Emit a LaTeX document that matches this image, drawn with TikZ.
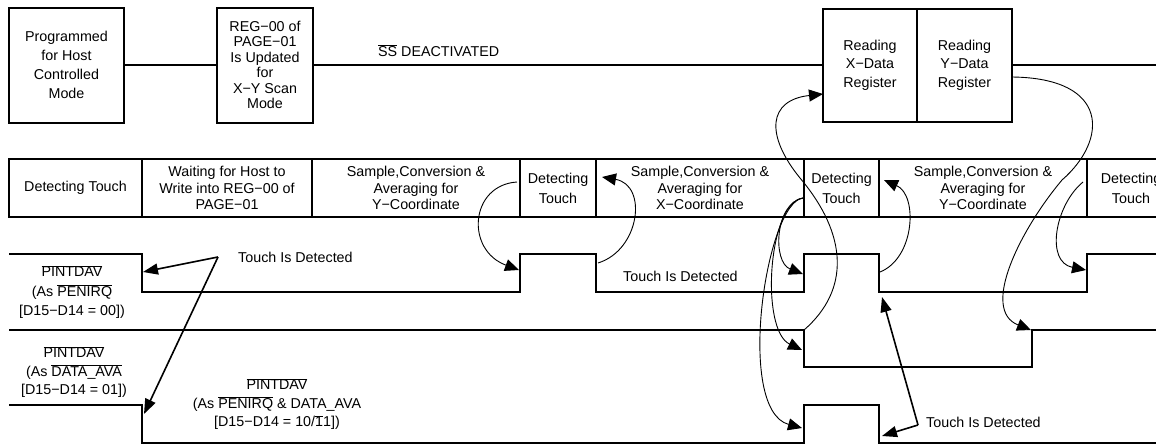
\documentclass[tikz,border=0pt]{standalone}
\usepackage{fontspec}
\setmainfont{Liberation Sans}
\usetikzlibrary{arrows.meta}
\newcommand{\ovl}[1]{$\overline{\mbox{#1}}$}
\begin{document}
\begin{tikzpicture}[x=1pt,y=-1pt,
  txt/.style={font=\fontsize{14.3}{17}\selectfont, inner sep=0pt, align=center},
  box/.style={draw, line width=2pt, inner sep=0pt, align=center, font=\fontsize{14.3}{16.5}\selectfont},
  wave/.style={line width=2.2pt},
  conn/.style={line width=2pt},
  link/.style={line width=0.9pt, -{Triangle[length=14pt,width=12pt]}},
  ptr/.style={line width=1.6pt, -{Triangle[length=15pt,width=11pt]}},
]
\useasboundingbox (0,0) rectangle (1156,445);
\clip (0,0) rectangle (1156,445);

% top row
\node[box, minimum width=115, minimum height=115, font=\fontsize{14.3}{19}\selectfont] (b1) at (66.5,65) {Programmed\\for Host\\Controlled\\Mode};
\node[box, minimum width=96, minimum height=115, font=\fontsize{14.3}{15.5}\selectfont] (b2) at (265,65) {REG−00 of\\PAGE−01\\Is Updated\\for\\X−Y Scan\\Mode};
\node[box, minimum width=94, minimum height=113, font=\fontsize{14.3}{18.5}\selectfont] (b3) at (870,65) {Reading\\X−Data\\Register};
\node[box, minimum width=95, minimum height=113, font=\fontsize{14.3}{18.5}\selectfont] (b4) at (964.5,65) {Reading\\Y−Data\\Register};
\coordinate (topR) at (1160,65);
\draw[conn] (b1.east) -- (b2.west);
\draw[conn] (b2.east) -- (b3.west);
\draw[conn] (b4.east) -- (topR);
\node[txt, anchor=west] (ss) at (378,51) {\ovl{SS} DEACTIVATED};

% state row
\node[box, minimum width=133, minimum height=58] (c1) at (75.5,188) {Detecting Touch};
\node[box, minimum width=170, minimum height=58] (c2) at (227,188) {Waiting for Host to\\Write into REG−00 of\\PAGE−01};
\node[box, minimum width=208, minimum height=58] (c3) at (416,188) {Sample,Conversion \&\\Averaging for\\Y−Coordinate};
\node[box, minimum width=76, minimum height=58, font=\fontsize{14.3}{20}\selectfont] (c4) at (558,188) {Detecting\\Touch};
\node[box, minimum width=208, minimum height=58] (c5) at (700,188) {Sample,Conversion \&\\Averaging for\\X−Coordinate};
\node[box, minimum width=75, minimum height=58, font=\fontsize{14.3}{20}\selectfont] (c6) at (841.5,188) {Detecting\\Touch};
\node[box, minimum width=208, minimum height=58] (c7) at (983,188) {Sample,Conversion \&\\Averaging for\\Y−Coordinate};
\node[box, minimum width=88, minimum height=58, font=\fontsize{14.3}{20}\selectfont] (c8) at (1131,188) {Detecting\\Touch};

% waveforms
\draw[wave] (9,254) -- (142,254) -- (142,292) -- (520,292) -- (520,254) -- (596,254) -- (596,292) -- (804,292) -- (804,254) -- (879,254) -- (879,292) -- (1087,292) -- (1087,254) -- (1160,254);
\draw[wave] (9,330) -- (804,330) -- (804,367) -- (1032,367) -- (1032,330) -- (1160,330);
\draw[wave] (9,405) -- (142,405) -- (142,443) -- (804,443) -- (804,405) -- (879,405) -- (879,443) -- (1160,443);

% signal labels
\node[txt, font=\fontsize{14.3}{19.5}\selectfont] (l3) at (72,292) {\ovl{PINTDAV}\\(As \ovl{PENIRQ}\\{[}D15−D14 = 00])};
\node[txt, font=\fontsize{14.3}{18.5}\selectfont] (l4) at (74,372) {\ovl{PINTDAV}\\(As \ovl{DATA\_AVA}\\{[}D15−D14 = 01])};
\node[txt, font=\fontsize{14.3}{18.5}\selectfont] (l5) at (277,404) {\ovl{PINTDAV}\\(As \ovl{PENIRQ} \& DATA\_AVA\\{[}D15−D14 = 10/\ovl{1}1])};

\node[txt, anchor=west] (td1) at (238,257) {Touch Is Detected};
\node[txt, anchor=west] (td2) at (623,276) {Touch Is Detected};
\node[txt, anchor=west] (td3) at (926,422) {Touch Is Detected};

% straight pointers
\coordinate (v1) at (218,257);
\coordinate (p3a) at (143,272);
\coordinate (p5a) at (144,414);
\draw[ptr] (v1) -- (p3a);
\draw[ptr] (v1) -- (p5a);
\coordinate (v2) at (918,425);
\coordinate (p3f) at (882,297);
\coordinate (p5f) at (882,436);
\draw[ptr] (v2) -- (p3f);
\draw[ptr] (v2) -- (p5f);

% curved links
\coordinate (ya) at (517,182);  \coordinate (r3a) at (519,270);
\draw[link] (ya) .. controls (470,185) and (465,250) .. (r3a);
\coordinate (f3a) at (598,263); \coordinate (dt1) at (602,177);
\draw[link] (f3a) .. controls (640,250) and (648,185) .. (dt1);
\coordinate (xe) at (803,198);
\coordinate (r3b) at (803,274);
\coordinate (r4b) at (802,350);
\coordinate (r5b) at (802,428);
\draw[link] (xe) .. controls (775,203) and (772,262) .. (r3b);
\draw[link] (xe) .. controls (768,202) and (760,330) .. (r4b);
\draw[link] (xe) .. controls (766,202) and (735,410) .. (r5b);
\coordinate (f3b) at (880,272); \coordinate (dt2) at (884,180);
\draw[link] (f3b) .. controls (915,258) and (918,195) .. (dt2);
\coordinate (ye) at (1083,182); \coordinate (r3c) at (1086,270);
\draw[link] (ye) .. controls (1055,205) and (1045,262) .. (r3c);
\coordinate (yreg) at (1012,77); \coordinate (fm) at (1062,180); \coordinate (r4c) at (1031,330);
\draw[link] (yreg) .. controls (1110,78) and (1108,140) .. (fm) .. controls (1020,230) and (980,310) .. (r4c);
\coordinate (f4) at (804,330); \coordinate (gm) at (800,178); \coordinate (xreg) at (823,94);
\draw[link] (f4) .. controls (850,290) and (848,235) .. (gm) .. controls (765,135) and (768,100) .. (xreg);
\end{tikzpicture}
\end{document}
